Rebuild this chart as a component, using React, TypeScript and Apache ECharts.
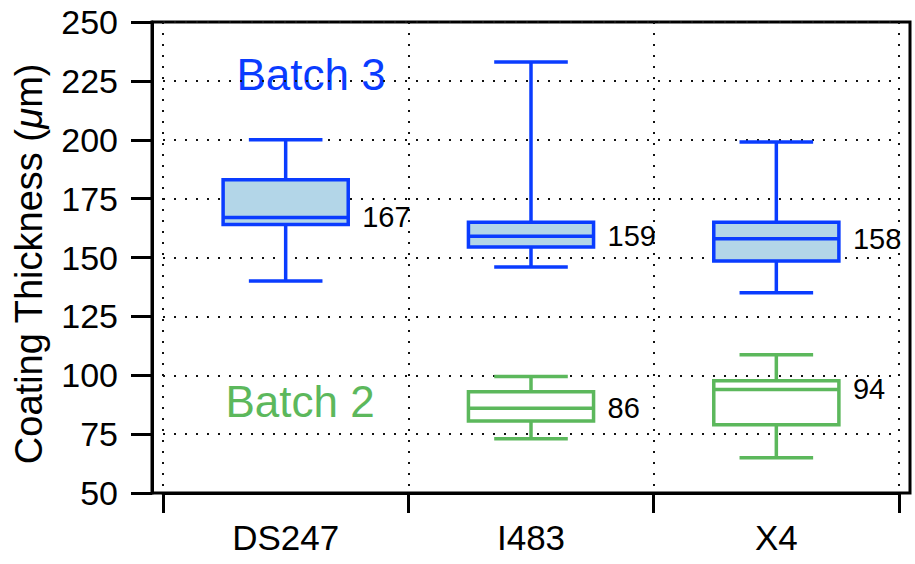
import React, { useEffect, useRef } from "react";
import * as echarts from "echarts";

const categories = ["DS247", "I483", "X4"];
const yTicks = { min: 50, max: 250, interval: 25 };

// Batch 3 (blue): min, Q1, median, Q3, max per category
const batch3Min = [140, 146, 135];
const batch3Q1 = [164, 154.5, 148.5];
const batch3Median = [167, 159, 158];
const batch3Q3 = [183, 165, 165];
const batch3Max = [200, 233, 199];

// Batch 2 (green): no DS247 data
const batch2Min = [null, 73, 65];
const batch2Q1 = [null, 80.6, 79];
const batch2Median = [null, 86, 94];
const batch2Q3 = [null, 93, 97.7];
const batch2Max = [null, 99.5, 108.7];

const FONT = "'Liberation Sans', Arial, Helvetica, sans-serif";
const BLUE = "#0a3cff";
const BLUE_FILL = "#b3d6e8";
const GREEN = "#5cb85c";

function buildData(mn: any[], q1: any[], md: any[], q3: any[], mx: any[]) {
  const out: number[][] = [];
  categories.forEach((_, i) => {
    if (md[i] == null) return;
    out.push([i, mn[i], q1[i], md[i], q3[i], mx[i]]);
  });
  return out;
}

function makeRenderer(stroke: string, fill: string) {
  return (params: any, api: any) => {
    const i = api.value(0);
    const pMin = api.coord([i, api.value(1)]);
    const pQ1 = api.coord([i, api.value(2)]);
    const pMed = api.coord([i, api.value(3)]);
    const pQ3 = api.coord([i, api.value(4)]);
    const pMax = api.coord([i, api.value(5)]);
    const band = api.size([1, 0])[0];
    const bw = band * 0.51;
    const cw = band * 0.3;
    const cx = pMed[0];
    const ls = { stroke, lineWidth: 3.5 };
    return {
      type: "group",
      children: [
        { type: "line", shape: { x1: cx, y1: pQ3[1], x2: cx, y2: pMax[1] }, style: ls },
        { type: "line", shape: { x1: cx, y1: pQ1[1], x2: cx, y2: pMin[1] }, style: ls },
        { type: "line", shape: { x1: cx - cw / 2, y1: pMax[1], x2: cx + cw / 2, y2: pMax[1] }, style: ls },
        { type: "line", shape: { x1: cx - cw / 2, y1: pMin[1], x2: cx + cw / 2, y2: pMin[1] }, style: ls },
        {
          type: "rect",
          shape: { x: cx - bw / 2, y: pQ3[1], width: bw, height: pQ1[1] - pQ3[1] },
          style: { fill, stroke, lineWidth: 3.5 },
        },
        { type: "line", shape: { x1: cx - bw / 2, y1: pMed[1], x2: cx + bw / 2, y2: pMed[1] }, style: ls },
        {
          type: "text",
          x: cx + bw / 2 + 14,
          y: pMed[1],
          style: {
            text: String(api.value(3)),
            fontSize: 29,
            fontFamily: FONT,
            fill: "#000",
            align: "left",
            verticalAlign: "middle",
          },
        },
      ],
    };
  };
}

export default function App() {
  const ref = useRef<HTMLDivElement>(null);
  useEffect(() => {
    if (!ref.current) return;
    const chart = echarts.init(ref.current, null, { renderer: "svg" });
    const dotted = { type: [2, 9] as any, width: 2, color: "#111" };
    chart.setOption({
      animation: false,
      backgroundColor: "#fff",
      grid: [
        { left: 163, right: 16, top: 22, bottom: 71, show: false },
        { left: 152, right: 5, top: 22, bottom: 71, show: true, borderColor: "#000", borderWidth: 3, backgroundColor: "transparent" },
      ],
      xAxis: [
        {
          type: "category",
          data: categories,
          gridIndex: 0,
          boundaryGap: true,
          axisLine: { show: true, lineStyle: { color: "#000", width: 3 } },
          axisTick: { show: true, length: 20, lineStyle: { color: "#000", width: 3 }, alignWithLabel: false },
          axisLabel: { fontSize: 35, fontFamily: FONT, color: "#000", margin: 27 },
          splitLine: { show: true, lineStyle: dotted },
        },
        { type: "value", gridIndex: 1, show: false },
      ],
      yAxis: [
        {
          type: "value",
          gridIndex: 0,
          min: yTicks.min,
          max: yTicks.max,
          interval: yTicks.interval,
          offset: 11,
          axisLine: { show: true, lineStyle: { color: "#000", width: 3 } },
          axisTick: { show: true, length: 21, lineStyle: { color: "#000", width: 3 } },
          axisLabel: { fontSize: 34, fontFamily: FONT, color: "#000", margin: 34 },
          splitLine: { show: true, lineStyle: dotted },
          name: "Coating Thickness ({i|μ}m)",
          nameLocation: "middle",
          nameGap: 104,
          nameTextStyle: {
            fontSize: 38,
            fontFamily: FONT,
            color: "#000",
            padding: [0, 13, 0, 0],
            rich: { i: { fontSize: 38, fontFamily: FONT, fontStyle: "italic", color: "#000" } },
          },
        },
        { type: "value", gridIndex: 1, show: false },
      ],
      graphic: [
        {
          type: "text",
          x: 311,
          y: 74,
          style: { text: "Batch 3", fontSize: 44, fontFamily: FONT, fill: BLUE, align: "center", verticalAlign: "middle" },
        },
        {
          type: "text",
          x: 300,
          y: 401,
          style: { text: "Batch 2", fontSize: 44, fontFamily: FONT, fill: GREEN, align: "center", verticalAlign: "middle" },
        },
      ],
      series: [
        {
          type: "custom",
          name: "Batch 3",
          xAxisIndex: 0,
          yAxisIndex: 0,
          renderItem: makeRenderer(BLUE, BLUE_FILL),
          encode: { x: 0, y: [1, 2, 3, 4, 5] },
          data: buildData(batch3Min, batch3Q1, batch3Median, batch3Q3, batch3Max),
          z: 3,
        },
        {
          type: "custom",
          name: "Batch 2",
          xAxisIndex: 0,
          yAxisIndex: 0,
          renderItem: makeRenderer(GREEN, "#fff"),
          encode: { x: 0, y: [1, 2, 3, 4, 5] },
          data: buildData(batch2Min, batch2Q1, batch2Median, batch2Q3, batch2Max),
          z: 3,
        },
      ],
    });
    return () => chart.dispose();
  }, []);
  return (
    <div
      ref={ref}
      style={{ position: "absolute", left: 0, top: 0, width: 915, height: 564 }}
    />
  );
}
